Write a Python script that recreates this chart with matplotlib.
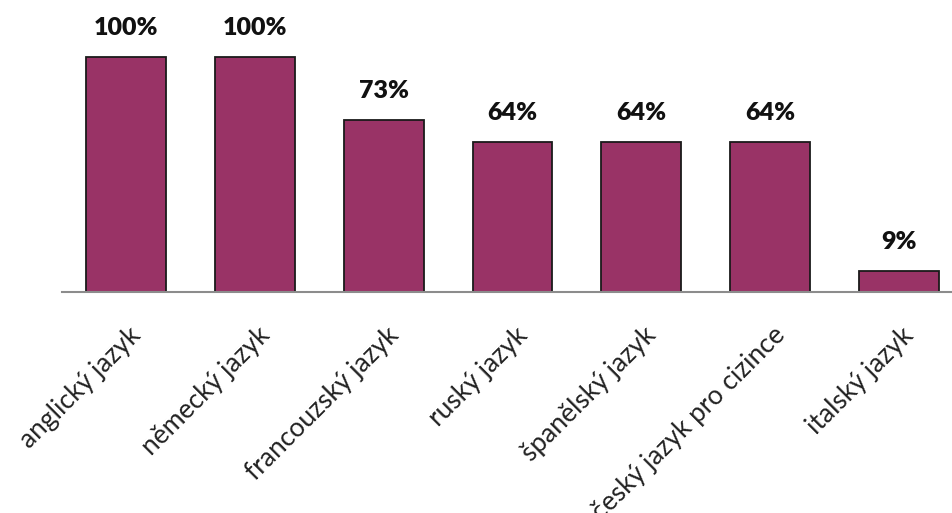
import matplotlib
matplotlib.use('Agg')
import matplotlib.pyplot as plt
import matplotlib.transforms as mtransforms

plt.rcParams['font.family'] = ['Lato', 'DejaVu Sans']

# languages taught and share of schools offering them
jazyky = ['anglický jazyk', 'německý jazyk', 'francouzský jazyk', 'ruský jazyk',
          'španělský jazyk', 'český jazyk pro cizince', 'italský jazyk']
podil = [100, 100, 73, 64, 64, 64, 9]
popisky = ['100%', '100%', '73%', '64%', '64%', '64%', '9%']

fig = plt.figure(figsize=(9.52, 5.13), dpi=100)
# axes run slightly past the right edge, as in the original sheet
ax = fig.add_axes([61.6 / 952, 221 / 513, 901.8 / 952, 235 * 1.2 / 513])

x = range(len(jazyky))
bars = ax.bar(x, podil, width=0.62, color='#993366', edgecolor='#1a1a1a', linewidth=1.3, zorder=2)

for b, txt in zip(bars, popisky):
    ax.annotate(txt, (b.get_x() + b.get_width() / 2, b.get_height()),
                xytext=(0, 13), textcoords='offset points',
                ha='center', va='bottom', fontsize=18, fontweight='heavy', color='#111111')

ax.set_xlim(-0.5, len(jazyky) - 0.5)
ax.set_ylim(0, 120)
ax.set_yticks([])
ax.set_xticks(list(x))
ax.set_xticklabels(jazyky, rotation=45, ha='right', rotation_mode='anchor',
                   fontsize=19, color='#222222')
ax.tick_params(axis='x', length=0, pad=22)

for s in ['top', 'right', 'left']:
    ax.spines[s].set_visible(False)
ax.spines['bottom'].set_color('#8c8c8c')
ax.spines['bottom'].set_linewidth(1.5)

# nudge the rotated labels so their ends sit just right of the bar centres
off = mtransforms.ScaledTranslation(2 / 100, 0, fig.dpi_scale_trans)
for lab in ax.get_xticklabels():
    lab.set_transform(lab.get_transform() + off)

fig.savefig('out.png', dpi=100)
